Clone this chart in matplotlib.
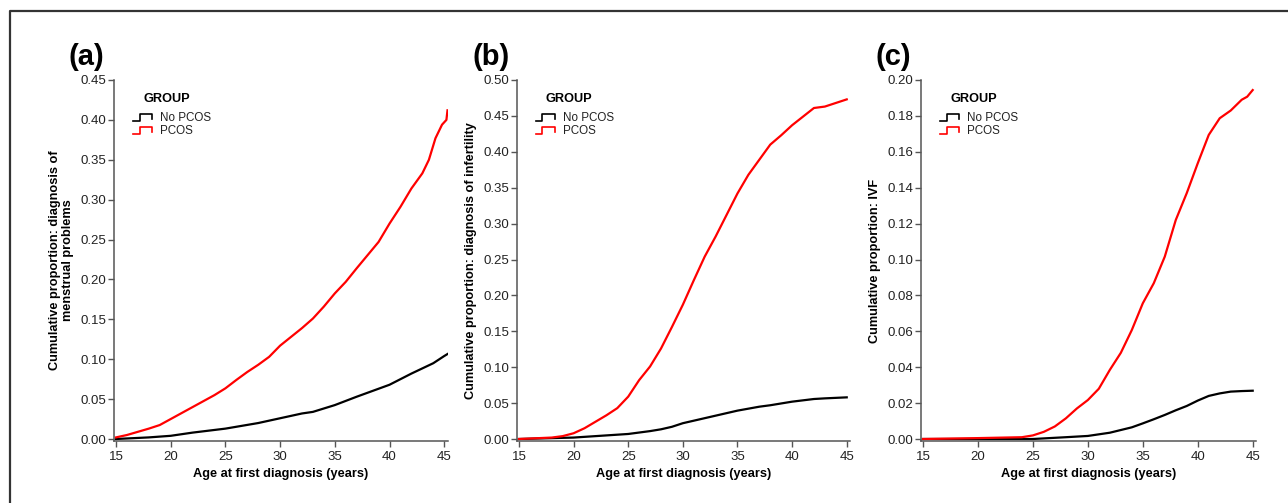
import matplotlib
matplotlib.use("Agg")
import matplotlib.pyplot as plt
import matplotlib.transforms as mtransforms
from matplotlib.lines import Line2D

plt.rcParams["font.family"] = ["Liberation Sans", "DejaVu Sans"]

# Cumulative proportions.
age_a = [15, 16, 17, 18, 19, 20, 22, 24, 25, 26, 27, 28, 29, 30, 31, 32, 33, 34, 35, 36,
         37, 38, 39, 40, 41, 42, 43, 43.6, 44.2, 44.8, 45.2, 45.3]
pcos_a = [0.002, 0.005, 0.009, 0.013, 0.0175, 0.025, 0.040, 0.055, 0.0635, 0.074, 0.084,
          0.093, 0.103, 0.117, 0.128, 0.139, 0.151, 0.166, 0.1825, 0.197, 0.214, 0.2305,
          0.247, 0.270, 0.291, 0.314, 0.333, 0.350, 0.377, 0.394, 0.400, 0.412]
age_a_ctrl = [15, 18, 20, 22, 25, 28, 30, 32, 33, 35, 37, 38, 40, 42, 43, 44, 45, 45.3]
ctrl_a = [0.0, 0.002, 0.004, 0.008, 0.013, 0.020, 0.026, 0.032, 0.034, 0.0425, 0.053,
          0.058, 0.068, 0.082, 0.0885, 0.095, 0.104, 0.1065]

age_b = [15, 18, 19, 20, 21, 22, 23, 24, 25, 26, 27, 28, 29, 30, 31, 32, 33, 34, 35, 36,
         37, 38, 39, 40, 41, 42, 43, 44, 45]
pcos_b = [0.0, 0.002, 0.004, 0.008, 0.015, 0.024, 0.033, 0.043, 0.059, 0.082, 0.101,
          0.126, 0.156, 0.187, 0.221, 0.254, 0.282, 0.312, 0.342, 0.368, 0.389, 0.410,
          0.423, 0.437, 0.449, 0.461, 0.463, 0.468, 0.473]
age_b_ctrl = [15, 20, 25, 27, 28, 29, 30, 32, 33, 35, 37, 38, 40, 42, 43, 45]
ctrl_b = [0.0, 0.002, 0.007, 0.011, 0.0135, 0.017, 0.022, 0.029, 0.0325, 0.0395, 0.045,
          0.047, 0.052, 0.0557, 0.0566, 0.058]

age_c = [15, 20, 24, 25, 26, 27, 28, 29, 30, 31, 32, 33, 34, 35, 36, 37, 38, 39, 40, 41,
         42, 43, 44, 44.5, 45]
pcos_c = [0.0, 0.0005, 0.001, 0.002, 0.004, 0.007, 0.0115, 0.017, 0.0217, 0.028, 0.0385,
          0.048, 0.0607, 0.0756, 0.0868, 0.1016, 0.122, 0.137, 0.1536, 0.1694, 0.1787,
          0.183, 0.189, 0.1907, 0.1944]
age_c_ctrl = [15, 25, 28, 30, 32, 34, 35, 36, 37, 38, 39, 40, 41, 42, 43, 44, 45]
ctrl_c = [0.0, 0.0, 0.001, 0.0017, 0.0035, 0.0065, 0.0087, 0.011, 0.0134, 0.016, 0.0184,
          0.0214, 0.024, 0.0254, 0.0264, 0.0267, 0.0269]

panel_tags = ["(a)", "(b)", "(c)"]
y_labels = [
    "Cumulative proportion: diagnosis of\nmenstrual problems",
    "Cumulative proportion: diagnosis of infertility",
    "Cumulative proportion: IVF",
]
y_tops = [0.45, 0.50, 0.20]
y_steps = [0.05, 0.05, 0.02]
x_ticks = [15, 20, 25, 30, 35, 40, 45]
group_names = ["No PCOS", "PCOS"]
group_colors = ["black", "#ff0000"]

panels = [
    (age_a_ctrl, ctrl_a, age_a, pcos_a),
    (age_b_ctrl, ctrl_b, age_b, pcos_b),
    (age_c_ctrl, ctrl_c, age_c, pcos_c),
]

W, H = 1288, 503
fig = plt.figure(figsize=(W / 100, H / 100), dpi=100)

# outer frame: only top and left edges visible
fig.add_artist(Line2D([10 / W, 10 / W, 1.0], [0.0, 1 - 10.5 / H, 1 - 10.5 / H],
                      transform=fig.transFigure, color="#333333", lw=1.6))

axis_color = "#555555"
lefts = [114, 517, 921]
rights = [447.5, 850, 1256]
top_px, bottom_px = 80, 441

for i, (xc, yc, xp, yp) in enumerate(panels):
    l, r = lefts[i], rights[i]
    ax = fig.add_axes([l / W, (H - bottom_px) / H, (r - l) / W, (bottom_px - top_px) / H])
    ax.plot(xc, yc, color=group_colors[0], lw=1.6, solid_joinstyle="round")
    ax.plot(xp, yp, color=group_colors[1], lw=1.6, solid_joinstyle="round")

    top = y_tops[i]
    ax.set_xlim(14.82, 45.3)
    ax.set_ylim(-top * 2 / 359, top)
    n = int(round(top / y_steps[i]))
    yt = [k * y_steps[i] for k in range(n + 1)]
    ax.set_yticks(yt)
    ax.set_yticklabels([f"{v:.2f}" for v in yt])
    ax.set_xticks(x_ticks)

    for s in ["top", "right"]:
        ax.spines[s].set_visible(False)
    for s in ["left", "bottom"]:
        ax.spines[s].set_color(axis_color)
        ax.spines[s].set_linewidth(1.1)
    ax.tick_params(direction="out", length=4, width=1.0, color=axis_color,
                   labelsize=9.5, pad=1.5, labelcolor="#222222")
    ax.tick_params(axis="x", pad=3)

    ax.set_xlabel("Age at first diagnosis (years)", fontsize=9.2, fontweight="bold",
                  labelpad=4)
    ax.set_ylabel(y_labels[i], fontsize=9.2, fontweight="bold", labelpad=5,
                  linespacing=1.1)

    # panel tag
    ax.text(-0.135, 1.065, panel_tags[i], transform=ax.transAxes, fontsize=21,
            fontweight="bold", ha="left", va="center")

    # legend with step-shaped glyphs
    ax.text(0.087, 0.947, "GROUP", transform=ax.transAxes, fontsize=9.2,
            fontweight="bold", ha="left", va="center")
    for j, name in enumerate(group_names):
        fy = 0.895 - j * 0.036
        trans = fig.dpi_scale_trans + mtransforms.ScaledTranslation(0.057, fy, ax.transAxes)
        gx = [0, 0.065, 0.065, 0.19, 0.19]
        gy = [-0.028, -0.028, 0.035, 0.035, -0.01]
        ax.add_line(Line2D(gx, gy, transform=trans, color=group_colors[j], lw=1.2,
                           clip_on=False))
        ax.text(0.138, fy, name, transform=ax.transAxes, fontsize=8.4, ha="left",
                va="center", color="#222222")

fig.savefig("out.png", dpi=100)
